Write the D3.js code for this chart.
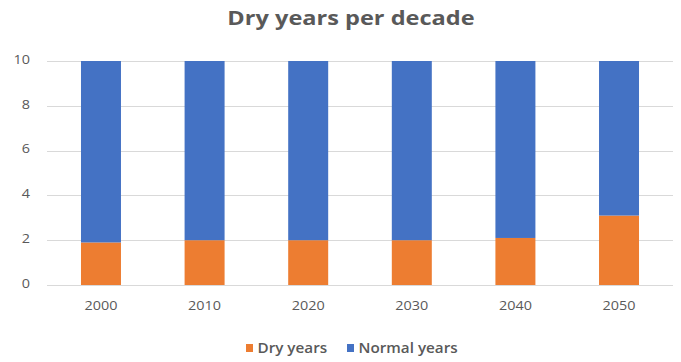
<!DOCTYPE html>
<html>
<head>
<meta charset="utf-8">
<script src="https://cdn.jsdelivr.net/npm/d3@7"></script>
<style>
  html, body { margin: 0; padding: 0; background: #fff; }
  svg { display: block; font-family: "Open Sans", "Liberation Sans", sans-serif; }
</style>
</head>
<body>
<svg id="chart" width="681" height="362"></svg>
<script>
// Decades on the category axis
const decades = ["2000", "2010", "2020", "2030", "2040", "2050"];
// Dry years out of each decade
const dryYears = [1.9, 2.0, 2.0, 2.0, 2.1, 3.1];
// Remaining normal years in each decade
const normalYears = [8.1, 8.0, 8.0, 8.0, 7.9, 6.9];
// Value axis ticks
const yTicks = [0, 2, 4, 6, 8, 10];

const seriesNames = ["Dry years", "Normal years"];
const colors = { "Dry years": "#ED7D31", "Normal years": "#4472C4" };
const textColor = "#595959";
const wide = 1.2; // horizontal stretch applied to the wide-set lettering

const rows = decades.map((d, i) => ({
  decade: d, "Dry years": dryYears[i], "Normal years": normalYears[i]
}));

const svg = d3.select("#chart");
const plot = { left: 47, right: 673, top: 61, bottom: 285 };

const x = d3.scaleBand().domain(decades)
  .range([plot.left, plot.right]).paddingInner(0.614).paddingOuter(0.328);
const y = d3.scaleLinear().domain([0, 10]).range([plot.bottom, plot.top]);

// Title
svg.append("text")
  .attr("transform", "translate(351,25) scale(1.24,1)")
  .attr("text-anchor", "middle")
  .attr("font-size", 19).attr("font-weight", 700)
  .attr("fill", textColor)
  .text("Dry years per decade");

// Gridlines
svg.append("g").selectAll("line").data(yTicks).join("line")
  .attr("x1", plot.left).attr("x2", plot.right)
  .attr("y1", d => Math.round(y(d)) + 0.5).attr("y2", d => Math.round(y(d)) + 0.5)
  .attr("stroke", "#D9D9D9").attr("stroke-width", 1);

// Stacked bars
const stack = d3.stack().keys(seriesNames)(rows);
svg.append("g").selectAll("g").data(stack).join("g")
  .attr("fill", s => colors[s.key])
  .selectAll("rect").data(s => s).join("rect")
  .attr("x", d => x(d.data.decade))
  .attr("width", x.bandwidth())
  .attr("y", d => y(d[1]))
  .attr("height", d => y(d[0]) - y(d[1]));

// Y axis labels (right-aligned, stretch anchored at the right edge)
const gy = svg.append("g").attr("transform", "translate(30,-1.5)")
  .call(d3.axisLeft(y).tickValues(yTicks).tickSize(0).tickPadding(0));
gy.select(".domain").remove();
gy.selectAll("text")
  .attr("x", 0)
  .attr("font-size", 12).attr("fill", textColor)
  .attr("font-family", "'Open Sans', sans-serif")
  .attr("transform", `scale(${wide},1)`);

// X axis labels
const gx = svg.append("g").attr("transform", "translate(0,301.5)")
  .call(d3.axisBottom(x).tickSize(0).tickPadding(0));
gx.select(".domain").remove();
gx.selectAll("text")
  .attr("font-size", 12).attr("fill", textColor)
  .attr("font-family", "'Open Sans', sans-serif")
  .attr("transform", `scale(${wide},1)`);

// Legend
const legend = svg.append("g").attr("transform", "translate(246,348)");
const items = [{ name: "Dry years", x: 0 }, { name: "Normal years", x: 101 }];
items.forEach(it => {
  const g = legend.append("g").attr("transform", `translate(${it.x},0)`);
  g.append("rect").attr("x", 0).attr("y", -4).attr("width", 7).attr("height", 8)
    .attr("fill", colors[it.name]);
  g.append("text")
    .attr("transform", "translate(11.5,0) scale(1.13,1)")
    .attr("dy", "0.36em")
    .attr("font-size", 13.5).attr("font-weight", 600).attr("fill", textColor)
    .text(it.name);
});
</script>
</body>
</html>
